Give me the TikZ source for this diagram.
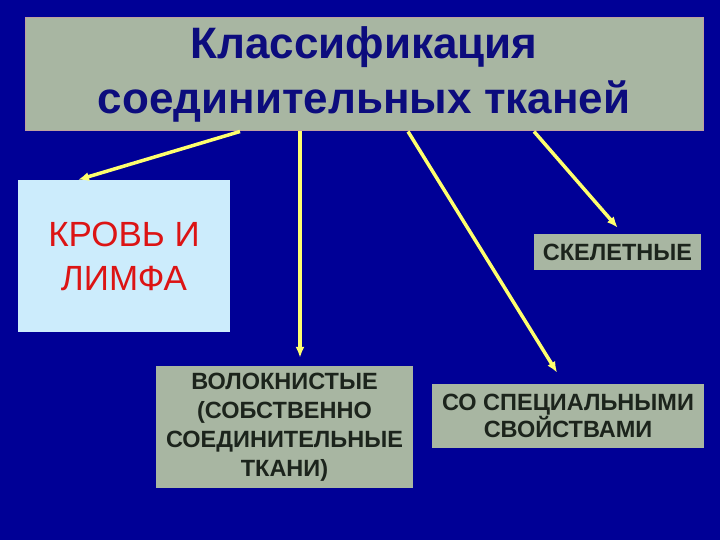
\documentclass[tikz,border=0pt]{standalone}
\usepackage{fontspec}
\setmainfont{Liberation Sans}
\usepackage{tikz}
\usetikzlibrary{arrows,arrows.meta,shapes,positioning}
\usepackage[dvipsnames]{xcolor}
\definecolor{slideblue}{RGB}{0,0,150}
\definecolor{boxgray}{RGB}{168,182,162}
\definecolor{titleink}{RGB}{12,12,125}
\definecolor{boxink}{RGB}{28,36,28}
\definecolor{paleblue}{RGB}{204,236,252}
\definecolor{bloodred}{RGB}{220,20,20}
\definecolor{linkyellow}{RGB}{255,255,110}
\definecolor{rimpink}{RGB}{190,160,160}

\begin{document}
\begin{tikzpicture}[x=1pt,y=-1pt,
    graybox/.style={rectangle, fill=boxgray, inner sep=0pt, align=center, text=boxink, font=\fontsize{23.5}{29}\selectfont\bfseries},
    link/.style={draw=linkyellow, line width=3.5pt, -{Latex[length=11pt,width=9pt]}}]
            \fill[slideblue] (0,0) rectangle (720,540);
            \useasboundingbox (0,0) rectangle (720,540);

            \node[rectangle, fill=boxgray, draw=rimpink, line width=1pt, minimum width=678pt, minimum height=113pt, align=center, text=titleink, font=\fontsize{44}{55}\selectfont\bfseries] (title) at (364,74.5) {Классификация\\соединительных тканей};

            \node[rectangle, fill=paleblue, inner sep=0pt, minimum width=212pt, minimum height=152pt, align=center, text=bloodred, font=\fontsize{35}{44}\selectfont] (blood) at (124,256) {КРОВЬ И\\ЛИМФА};
            \node[graybox, minimum width=167pt, minimum height=36pt] (skeletal) at (617.5,252) {СКЕЛЕТНЫЕ};
            \node[graybox, minimum width=257pt, minimum height=122pt] (fibrous) at (284.5,427) {ВОЛОКНИСТЫЕ\\(СОБСТВЕННО\\СОЕДИНИТЕЛЬНЫЕ\\ТКАНИ)};
            \node[graybox, minimum width=272pt, minimum height=64pt, font=\fontsize{23.5}{27}\selectfont\bfseries] (special) at (568,416) {СО СПЕЦИАЛЬНЫМИ\\СВОЙСТВАМИ};


            \draw[link] (240,0 |- title.south) -- (78,0 |- blood.north);
            \draw[link, shorten >=8pt] (300,0 |- title.south) -- (300,0 |- fibrous.north);
            \draw[link, shorten >=13pt] (408,0 |- title.south) -- (564,0 |- special.north);
            \draw[link, shorten >=8pt] (534,0 |- title.south) -- (623,0 |- skeletal.north);


    \end{tikzpicture}
\end{document}
